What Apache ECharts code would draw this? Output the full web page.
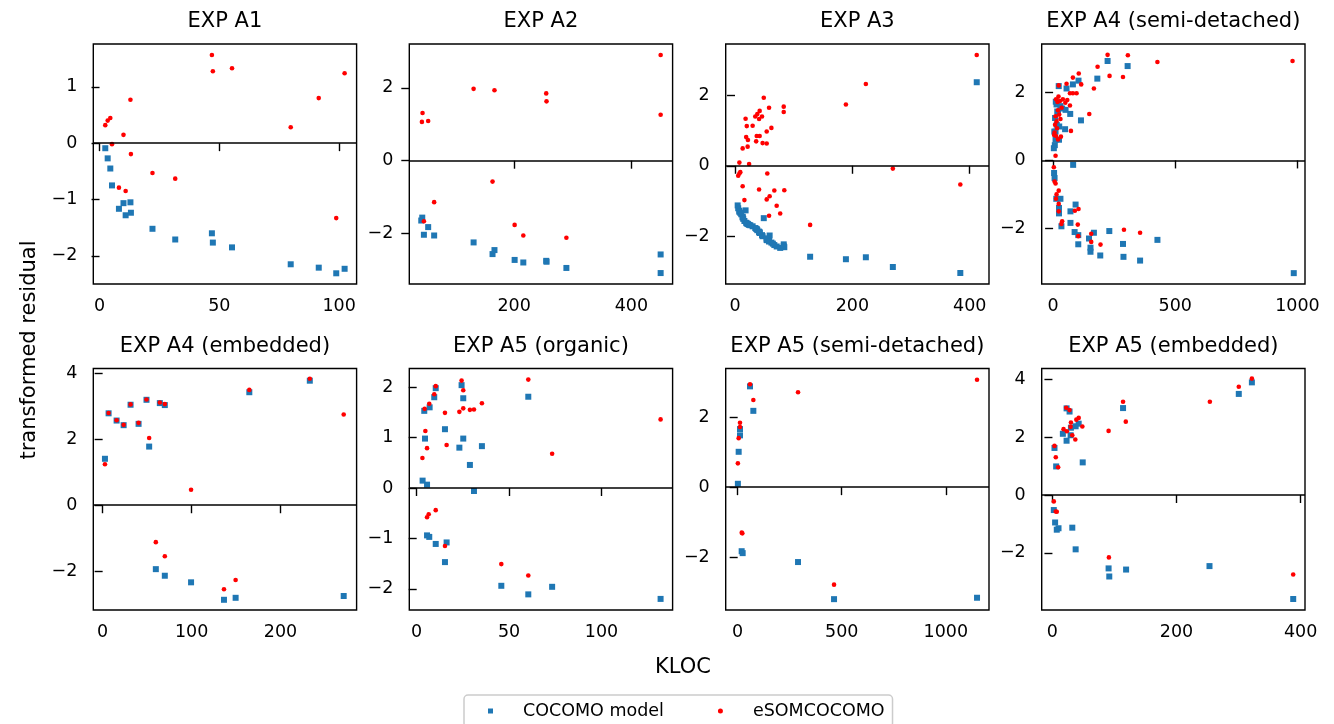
<!DOCTYPE html>
<html><head><meta charset="utf-8">
<script src="https://cdn.jsdelivr.net/npm/echarts@6/dist/echarts.min.js"></script>
<style>html,body{margin:0;padding:0;background:#fff}#c{width:1334px;height:724px}</style>
</head><body><div id="c"></div>
<script>
// ---------------- data ----------------
const TITLES = ['EXP A1','EXP A2','EXP A3','EXP A4 (semi-detached)','EXP A4 (embedded)','EXP A5 (organic)','EXP A5 (semi-detached)','EXP A5 (embedded)'];
const SERIES_NAMES = ['COCOMO model','eSOMCOCOMO'];
const X_LABEL = 'KLOC';
const Y_LABEL = 'transformed residual';

const A1_COCOMO = [[2.4,-0.09],[3.4,-0.27],[4.5,-0.45],[5.2,-0.75],[8.1,-1.165],[10.0,-1.065],[10.9,-1.28],[12.9,-1.05],[13.1,-1.235],[22.1,-1.52],[31.6,-1.71],[46.9,-1.60],[47.3,-1.765],[55.3,-1.85],[79.8,-2.15],[91.5,-2.21],[98.8,-2.31],[102.3,-2.23]];
const A1_ESOM = [[2.4,0.32],[3.4,0.40],[4.5,0.447],[5.2,-0.018],[8.1,-0.79],[10.0,0.147],[10.9,-0.85],[12.9,0.77],[13.1,-0.194],[22.1,-0.53],[31.6,-0.63],[46.9,1.565],[47.3,1.276],[55.3,1.33],[79.8,0.282],[91.5,0.80],[98.8,-1.33],[102.3,1.24]];

const A2_COCOMO = [[41.6,-1.64],[43.3,-1.56],[46.1,-2.03],[53.4,-1.82],[63.6,-2.05],[130.9,-2.24],[163.2,-2.56],[166.5,-2.45],[200.9,-2.72],[215.7,-2.79],[254.8,-2.745],[255.3,-2.77],[289.2,-2.94],[450,-2.57],[450,-3.08]];
const A2_ESOM = [[42.7,1.064],[43.8,1.31],[46.1,-1.66],[53.4,1.09],[63.6,-1.136],[130.9,1.97],[163.2,-0.573],[166.5,1.93],[200.9,-1.76],[215.7,-2.05],[254.8,1.845],[255.3,1.627],[289.2,-2.11],[450,2.9],[450,1.26]];

const A3_COCOMO = [[412,2.36],[223,-2.585],[189,-2.64],[49,-1.48],[58,-2.12],[83,-2.27],[83,-2.22],[18,-1.26],[42,-1.88],[38,-1.82],[34.5,-1.76],[41,-1.86],[46,-1.96],[20,-1.63],[30,-1.71],[62,-2.17],[54,-2.08],[19,-1.61],[37,-1.79],[42,-1.90],[22,-1.65],[36,-1.78],[47,-1.99],[54,-2.10],[21.5,-1.64],[13,-1.44],[7.4,-1.27],[24,-1.67],[269,-2.86],[384,-3.03],[7.4,-1.30],[9,-1.33],[5.4,-1.20],[55,-2.10],[13,-1.46],[41,-1.87],[67,-2.24],[84,-2.30],[59,-1.97],[54,-2.05],[16,-1.56],[71,-2.28],[77,-2.32],[58,-2.14],[128,-2.57],[4.5,-1.12],[10.6,-1.37],[14,-1.50],[26,-1.68],[64.5,-2.20]];
const A3_ESOM = [[412,3.13],[223,2.31],[189,1.73],[49,1.92],[58,1.64],[83,1.67],[83,1.52],[18,1.33],[42,1.55],[38,1.46],[34.5,1.39],[41,1.32],[46,1.39],[20,1.12],[30,1.13],[62,1.07],[54,0.97],[19,0.81],[37,0.84],[42,0.84],[22,0.73],[36,0.69],[47,0.64],[54,0.63],[21.5,0.54],[13,0.49],[7.4,0.09],[24,0.05],[269,-0.08],[384,-0.53],[7.4,-0.22],[9,-0.18],[5.4,-0.28],[55,-0.22],[13,-0.58],[41,-0.67],[67,-0.70],[84,-0.69],[59,-0.86],[54,-0.95],[16,-0.97],[71,-1.13],[77,-1.35],[58,-1.41],[128,-1.67]];

const A4S_COCOMO = [[223,2.93],[305,2.78],[181,2.41],[104,2.35],[81,2.24],[23,2.19],[55,2.12],[114,1.18],[70,1.37],[49,0.92],[37,1.53],[51,1.49],[17,1.44],[11,1.73],[14,1.65],[30,1.60],[20,1.40],[8,1.25],[15,1.05],[25,1.00],[5,0.85],[10,0.85],[24,0.61],[10,0.61],[7,0.45],[3,0.36],[82,-0.13],[4,-0.37],[6,-0.52],[13,-1.13],[30,-1.13],[24,-1.40],[24,-1.56],[34,-1.94],[92,-1.30],[71,-1.50],[71,-1.84],[88,-2.11],[103,-2.20],[103,-2.47],[147,-2.30],[153,-2.57],[153,-2.69],[167,-2.13],[193,-2.80],[230,-2.08],[286,-2.46],[288,-2.84],[356,-2.95],[427,-2.34],[985,-3.32]];
const A4S_ESOM = [[223,3.11],[306,3.10],[427,2.90],[182,2.76],[231,2.49],[286,2.46],[105,2.56],[81,2.44],[115,2.24],[55,2.26],[23,2.21],[167,2.12],[69,1.98],[81,1.98],[96,1.98],[22,1.88],[69,1.62],[148,1.37],[73,0.87],[32,0.70],[12,1.80],[18,1.72],[28,1.75],[40,1.80],[50,1.70],[58,1.78],[35,1.55],[20,1.48],[25,1.35],[10,1.30],[30,1.22],[14,1.15],[8,1.05],[16,0.95],[6,0.82],[12,0.72],[20,0.62],[4,0.75],[10,0.14],[3,-0.20],[6,-0.62],[10,-0.68],[23,-0.89],[14,-1.00],[12,-1.13],[23,-1.28],[23,-1.50],[37,-1.79],[34,-1.87],[104,-1.43],[89,-1.48],[101,-1.89],[103,-2.23],[156,-2.16],[156,-2.40],[194,-2.48],[290,-2.04],[356,-2.13],[980,2.93]];

const A4E_COCOMO = [[2.6,1.41],[6.7,2.79],[15.7,2.57],[23.6,2.43],[31.4,3.05],[40.4,2.47],[49.3,3.20],[52.3,1.78],[59.8,-1.94],[64.3,3.10],[69.9,3.04],[69.9,-2.14],[99.4,-2.34],[136.4,-2.87],[149.5,-2.81],[164.9,3.43],[232.9,3.78],[271,-2.755]];
const A4E_ESOM = [[2.6,1.245],[6.7,2.80],[15.7,2.58],[23.6,2.44],[31.4,3.06],[40.4,2.50],[49.3,3.21],[52.3,2.04],[59.8,-1.12],[64.3,3.12],[69.9,3.07],[69.9,-1.55],[99.4,0.47],[136.4,-2.55],[149.5,-2.27],[164.9,3.50],[232.9,3.84],[271,2.755]];

const A5O_COCOMO = [[3.2,0.146],[5.6,0.066],[4.1,1.53],[4.5,0.98],[7.0,1.60],[9.5,1.80],[10.3,1.98],[15.3,1.166],[23.1,0.80],[24.3,2.04],[25.2,1.78],[25.2,0.98],[28.8,0.457],[31.0,-0.06],[35.3,0.83],[60.4,1.81],[5.6,-0.94],[6.8,-0.97],[10.3,-1.11],[16.2,-1.08],[15.3,-1.47],[45.8,-1.94],[60.4,-2.11],[73.3,-1.96],[132,-2.2]];
const A5O_ESOM = [[3.1,0.596],[4.3,1.57],[4.7,1.13],[5.6,0.79],[6.8,1.67],[9.5,1.86],[10.3,2.02],[15.3,1.49],[16.2,0.854],[23.1,1.51],[24.3,2.13],[25.2,1.94],[25.2,1.58],[28.8,1.55],[31.0,1.556],[35.3,1.68],[60.4,2.15],[73.3,0.68],[132,1.36],[5.6,-0.58],[6.5,-0.52],[10.3,-0.44],[15.3,-1.15],[45.8,-1.51],[60.4,-1.735]];

const A5S_COCOMO = [[1,0.096],[4.8,1.01],[11.2,1.48],[11.2,1.66],[59.3,2.88],[75.3,2.18],[19.2,-1.83],[24,-1.885],[290,-2.14],[463,-3.2],[1150,-3.16]];
const A5S_ESOM = [[1,0.68],[4.8,1.40],[11.2,1.84],[11.2,1.72],[59.3,2.94],[75.3,2.49],[290,2.71],[1150,3.07],[22.4,-1.32],[19.5,-1.30],[463,-2.785]];

const A5E_COCOMO = [[3.3,1.63],[6,0.99],[2.2,-0.52],[4.3,-0.95],[7,-1.20],[9.8,-1.15],[16.8,2.12],[22.8,1.88],[22.8,3.00],[27.6,2.89],[29.8,2.33],[29.3,2.07],[37.4,2.38],[42.3,2.47],[48.8,1.13],[32,-1.13],[37.4,-1.88],[90.5,-2.54],[91.6,-2.82],[118.7,-2.58],[113.8,3.01],[253.1,-2.46],[300.3,3.50],[321.4,3.90],[388,-3.6]];
const A5E_ESOM = [[3.3,1.70],[5.4,1.31],[9.2,0.96],[2.2,-0.22],[5.4,-0.57],[7,-0.58],[17.9,2.28],[23.3,2.21],[22.2,3.02],[27.6,2.94],[29.8,2.51],[29.3,2.36],[32,2.07],[36.9,1.92],[38.5,2.61],[42.3,2.67],[48.2,2.37],[90.5,2.22],[113.8,3.23],[118.2,2.54],[253.7,3.23],[300.3,3.75],[321.4,4.03],[91,-2.16],[388,-2.75]];

const COCOMO = [A1_COCOMO, A2_COCOMO, A3_COCOMO, A4S_COCOMO, A4E_COCOMO, A5O_COCOMO, A5S_COCOMO, A5E_COCOMO];
const ESOM = [A1_ESOM, A2_ESOM, A3_ESOM, A4S_ESOM, A4E_ESOM, A5O_ESOM, A5S_ESOM, A5E_ESOM];

const X_TICKS = [[0,50,100],[200,400],[0,200,400],[0,500,1000],[0,100,200],[0,50,100],[0,500,1000],[0,200,400]];
const Y_TICKS = [[-2,-1,0,1],[-2,0,2],[-2,0,2],[-2,0,2],[-2,0,2,4],[-2,-1,0,1,2],[-2,0,2],[-2,0,2,4]];

// ---------------- layout ----------------
const X_RANGE = [[-2.6,107.3],[21.2,470.4],[-15.9,432.9],[-46.7,1031],[-10.5,285.5],[-4,138.5],[-57.5,1207.5],[-17.3,407]];
const Y_RANGE = [[-2.50,1.76],[-3.38,3.20],[-3.34,3.44],[-3.64,3.43],[-3.18,4.15],[-2.42,2.37],[-3.51,3.39],[-3.98,4.38]];
const COL_LEFT = [93.3, 409.3, 725.7, 1041.7];
const PANEL_W = 263.3;
const ROW_TOP = [44, 368.5];
const PANEL_H = [240, 241.5];
const FONT = '"DejaVu Sans", sans-serif';
const TICK_FS = 17.5, TITLE_FS = 21;

const fmt = v => (v < 0 ? '\u2212' + Math.abs(v) : String(v));

const grids = [], xAxes = [], yAxes = [], series = [], graphics = [];
for (let i = 0; i < 8; i++) {
  const r = Math.floor(i / 4), c = i % 4;
  grids.push({left: COL_LEFT[c], top: ROW_TOP[r], width: PANEL_W, height: PANEL_H[r],
    show: true, borderColor: '#000', borderWidth: 1.4, backgroundColor: 'rgba(0,0,0,0)', containLabel: false});
  const common = {
    type: 'value', gridIndex: i, scale: true,
    axisLine: {show: false}, splitLine: {show: false},
    axisTick: {show: true, length: 8, lineStyle: {color: '#000', width: 1.4}},
    axisLabel: {formatter: fmt, fontSize: TICK_FS, fontFamily: FONT, color: '#000', showMinLabel: true, showMaxLabel: true}
  };
  xAxes.push(Object.assign({}, common, {min: X_RANGE[i][0], max: X_RANGE[i][1],
    axisTick: Object.assign({}, common.axisTick, {customValues: X_TICKS[i]}),
    axisLabel: Object.assign({}, common.axisLabel, {customValues: X_TICKS[i], margin: 13})}));
  yAxes.push(Object.assign({}, common, {min: Y_RANGE[i][0], max: Y_RANGE[i][1],
    axisTick: Object.assign({}, common.axisTick, {customValues: Y_TICKS[i]}),
    axisLabel: Object.assign({}, common.axisLabel, {customValues: Y_TICKS[i], margin: 16})}));
  series.push({type: 'scatter', name: SERIES_NAMES[0], xAxisIndex: i, yAxisIndex: i,
    data: COCOMO[i], symbol: 'rect', symbolSize: 6, itemStyle: {color: '#1f77b4', opacity: 1}, z: 2,
    markLine: {silent: true, symbol: 'none', animation: false, label: {show: false},
      lineStyle: {color: '#000', width: 1.7, type: 'solid', opacity: 1}, data: [{yAxis: 0}]}});
  series.push({type: 'scatter', name: SERIES_NAMES[1], xAxisIndex: i, yAxisIndex: i,
    data: ESOM[i], symbol: 'circle', symbolSize: 4.6, itemStyle: {color: '#ff0000', opacity: 1}, z: 3});
  graphics.push({type: 'text', x: COL_LEFT[c] + PANEL_W / 2, y: ROW_TOP[r] - 22,
    style: {text: TITLES[i], font: TITLE_FS + 'px ' + FONT, fill: '#000', align: 'center', verticalAlign: 'middle', textAlign: 'center', textVerticalAlign: 'middle'}});
}
graphics.push({type: 'text', x: 683, y: 668,
  style: {text: X_LABEL, font: TITLE_FS + 'px ' + FONT, fill: '#000', align: 'center', verticalAlign: 'middle', textAlign: 'center', textVerticalAlign: 'middle'}});
graphics.push({type: 'text', x: 30, y: 350, rotation: Math.PI / 2,
  style: {text: Y_LABEL, font: TITLE_FS + 'px ' + FONT, fill: '#000', align: 'center', verticalAlign: 'middle', textAlign: 'center', textVerticalAlign: 'middle'}});

const chart = echarts.init(document.getElementById('c'), null, {renderer: 'canvas'});
chart.setOption({
  animation: false,
  backgroundColor: '#fff',
  grid: grids, xAxis: xAxes, yAxis: yAxes, series: series,
  legend: {
    left: 464, top: 695, orient: 'horizontal', selectedMode: false,
    data: [{name: SERIES_NAMES[0], icon: 'rect'}, {name: SERIES_NAMES[1], icon: 'circle'}],
    itemWidth: 5, itemHeight: 5, itemGap: 54,
    padding: [7, 8, 7, 24],
    borderColor: '#cccccc', borderWidth: 1.5, borderRadius: 4, backgroundColor: '#fff',
    textStyle: {fontFamily: FONT, fontSize: 17.5, color: '#000', padding: [0, 0, 0, 25]}
  },
  graphic: graphics
});
</script></body></html>
